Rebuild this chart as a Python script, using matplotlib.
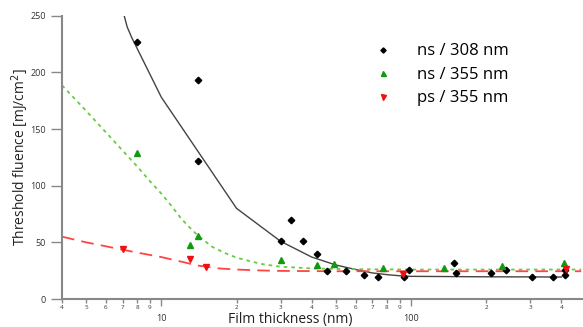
import matplotlib
matplotlib.use("Agg")
import matplotlib.pyplot as plt
from matplotlib.ticker import FixedLocator, FixedFormatter

plt.rcParams['font.family'] = ['Open Sans', 'DejaVu Sans']

# ns / 308 nm - měřené body
ns308_x = [8.0, 14, 14, 30, 33, 37, 42, 46, 55, 65, 74, 94, 98, 149, 152, 208, 240, 304, 371, 412, 412]
ns308_y = [227, 193, 122, 51, 70, 51, 40, 25, 25, 21, 19, 19, 25.5, 32, 22.6, 23, 26, 19.6, 19.6, 21, 26]
# ns / 355 nm
ns355_x = [8.0, 13, 14, 30, 42, 49, 77, 135, 231, 411]
ns355_y = [129, 47.5, 56, 34.6, 29.7, 30.8, 27, 27, 29.3, 32]
# ps / 355 nm
ps355_x = [7.0, 13, 15.1, 93, 418]
ps355_y = [43.7, 35, 28, 22, 26.7]

# fitované křivky
fit308_x = [7.0, 7.3, 7.6, 10, 20, 30, 40, 50, 60, 70, 80, 90, 100, 200, 300, 400]
fit308_y = [255, 240, 231, 178, 80, 51, 37, 30, 26, 23, 21.5, 20.5, 20, 19.6, 19.5, 19.4]
fit355_x = [4, 5, 6, 7, 8, 9, 10, 11, 12, 13, 14, 16, 18, 20, 25, 30, 40, 50, 70, 100, 200, 480]
fit355_y = [188.6, 166, 147, 131, 117, 104, 93, 82, 71, 63, 56, 46, 40.5, 36.5, 31, 28.5, 27, 26.5, 26.2, 26, 26, 26]
fitps_x = [4, 5, 6, 7, 8, 10, 12, 14, 17, 20, 25, 30, 50, 100, 480]
fitps_y = [55, 50, 46.5, 43.5, 41, 37, 33, 29.5, 27, 26, 25.2, 24.8, 24.5, 24.5, 24.5]

fig = plt.figure(figsize=(5.83, 3.27), dpi=100)
ax = fig.add_axes([0.1063, 0.0856, 0.8937, 0.8664])

ax.plot(fit308_x, fit308_y, color="#444444", lw=1.0)
ax.plot(fit355_x, fit355_y, color="#66cc44", lw=1.3, dashes=(2, 2.2))
ax.plot(fitps_x, fitps_y, color="#ff4444", lw=1.3, dashes=(7, 4))

ax.plot(ns308_x, ns308_y, "D", color="black", ms=3.3, ls="none", label="ns / 308 nm")
ax.plot(ns355_x, ns355_y, "^", color="#119911", ms=4.5, ls="none", label="ns / 355 nm")
ax.plot(ps355_x, ps355_y, "v", color="#ee1111", ms=4.5, ls="none", label="ps / 355 nm")

ax.set_xscale("log")
ax.set_xlim(4, 488)
ax.set_ylim(0, 250)

for s in ["top", "right"]:
    ax.spines[s].set_visible(False)
for s in ["left", "bottom"]:
    ax.spines[s].set_color("#888888")
    ax.spines[s].set_linewidth(1.5)

ax.set_yticks([0, 50, 100, 150, 200, 250])
ax.tick_params(axis="y", colors="#888888", labelcolor="#333333", labelsize=6.5, length=8, width=1, pad=3.5)

ax.xaxis.set_major_locator(FixedLocator([10, 100]))
ax.xaxis.set_major_formatter(FixedFormatter(["10", "100"]))
minor = [4, 5, 6, 7, 8, 9, 20, 30, 40, 50, 60, 70, 80, 90, 200, 300, 400]
ax.xaxis.set_minor_locator(FixedLocator(minor))
ax.xaxis.set_minor_formatter(FixedFormatter(["4", "5", "6", "7", "8", "9", "2", "3", "4", "5", "6", "7", "8", "9", "2", "3", "4"]))
ax.tick_params(axis="x", which="major", colors="#888888", labelcolor="#333333", labelsize=6.5, length=5, width=1, pad=6)
ax.tick_params(axis="x", which="minor", colors="#888888", labelcolor="#333333", labelsize=4.5, length=3, width=1, pad=1.5)

fig.text(290 / 583, 1 - 320 / 327, "Film thickness (nm)", fontsize=10, color="#222222",
         ha="center", va="center")
ax.set_ylabel("Threshold fluence [mJ/cm$^2$]", fontsize=10, color="#222222")
ax.yaxis.set_label_coords(-0.059, 0.5)

ax.legend(loc="upper left", bbox_to_anchor=(0.575, 0.955), frameon=False, fontsize=12,
          handlelength=0.8, handletextpad=1.6, labelspacing=0.45, markerscale=0.8)

fig.savefig("out.png", dpi=100)
